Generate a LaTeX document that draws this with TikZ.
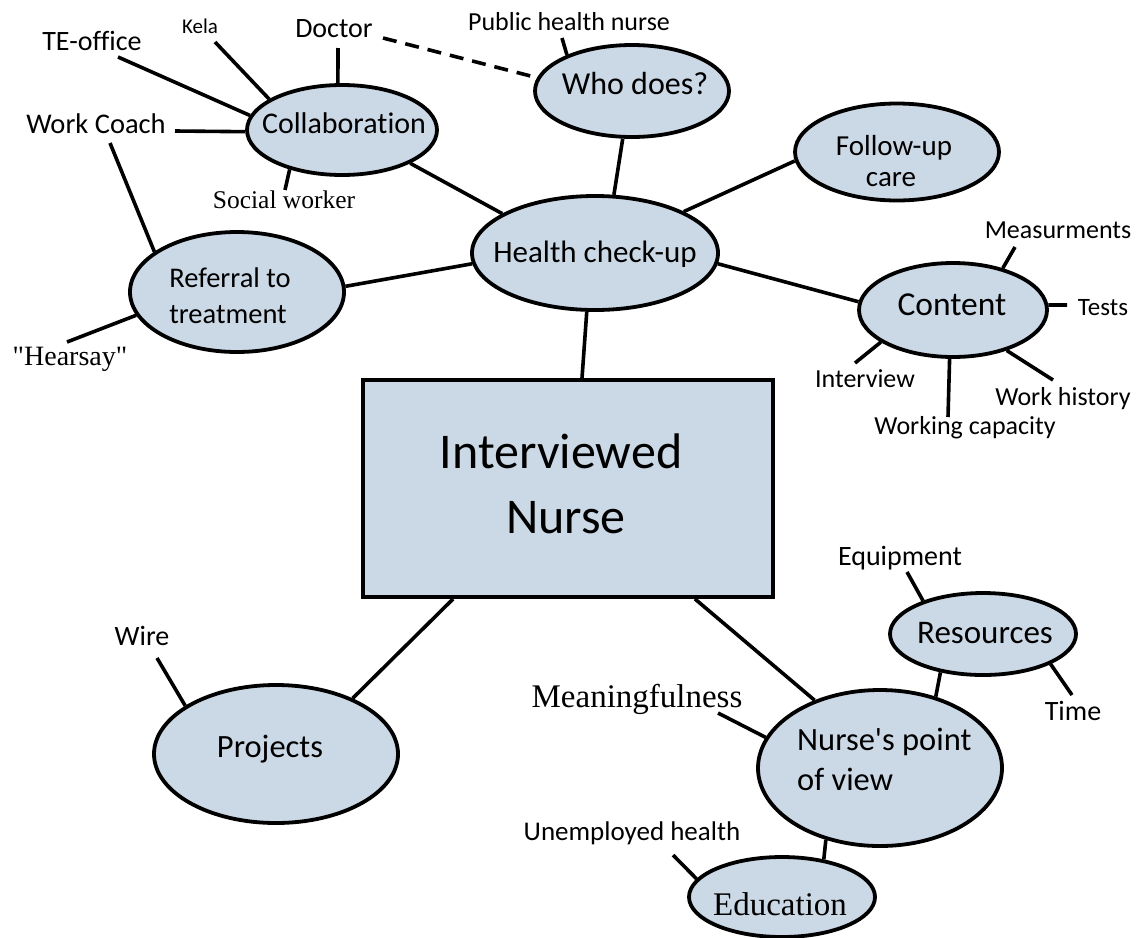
\documentclass[tikz,border=0pt]{standalone}
\usepackage{fontspec}
\setmainfont{Carlito}[Ligatures={TeX,NoCommon}]
\newfontfamily\carnq{Carlito}[Ligatures={TeXOff,NoCommon}]
\newfontfamily\tms{Liberation Serif}
\usetikzlibrary{shapes.geometric}
\definecolor{bubfill}{RGB}{203,216,229}
\pgfdeclarelayer{background}
\pgfsetlayers{background,main}
\tikzset{
  bub/.style={ellipse, draw=black, line width=3.8pt, fill=bubfill, inner sep=0pt},
  lbl/.style={anchor=base, inner sep=0pt, font=\fontsize{#1}{#1}\selectfont},
  slbl/.style={anchor=base, inner sep=0pt, font=\tms\fontsize{#1}{#1}\selectfont},
  conn/.style={line width=3.6pt, line cap=butt},
  dconn/.style={line width=3.6pt, dash pattern=on 14pt off 9pt}
}
\begin{document}
\begin{tikzpicture}[x=1pt,y=-1pt]
\useasboundingbox (0,0) rectangle (1147,937);

% ---------- main box ----------
\node[draw=black, line width=3.8pt, fill=bubfill, inner sep=0pt,
      minimum width=410pt, minimum height=217pt] (box) at (568,488.5) {};
\node[lbl=50] (boxa) at (561,468) {Interviewed};
\node[lbl=50] (boxb) at (566,533) {Nurse};

% ---------- bubbles ----------
\node[bub, minimum width=190pt, minimum height=90pt]  (collab) at (342,130) {};
\node[bub, minimum width=194pt, minimum height=92pt]  (who)    at (632,91) {};
\node[bub, minimum width=246pt, minimum height=114pt] (hc)     at (595,253) {};
\node[bub, minimum width=204pt, minimum height=97pt]  (fup)    at (897,152) {};
\node[bub, minimum width=188pt, minimum height=94pt]  (cont)   at (953,310) {};
\node[bub, minimum width=214pt, minimum height=120pt] (ref)    at (237,292) {};
\node[bub, minimum width=244pt, minimum height=138pt] (proj)   at (276,754) {};
\node[bub, minimum width=186pt, minimum height=82pt]  (res)    at (983,634) {};
\node[bub, minimum width=244pt, minimum height=156pt] (npv)    at (880,768) {};
\node[bub, minimum width=186pt, minimum height=80pt]  (edu)    at (782,897) {};

% ---------- bubble texts ----------
\node[lbl=30] (collabt) at (344,133) {Collaboration};
\node[lbl=32] (whot)    at (635,94) {Who does?};
\node[lbl=31] (hct)     at (595,262) {Health check-up};
\node[lbl=29] (fupa)    at (894,155) {Follow-up};
\node[lbl=29] (fupb)    at (891,186) {care};
\node[lbl=33.5] (contt) at (952,315) {Content};
\node[lbl=28.5] (refa)  at (230,287) {Referral to};
\node[lbl=28.5] (refb)  at (228,323) {treatment};
\node[lbl=32.5] (projt) at (270,757) {Projects};
\node[lbl=33] (rest)    at (985,643) {Resources};
\node[anchor=base west, inner sep=0pt, font=\carnq\fontsize{32.5}{32.5}\selectfont] (npva) at (797,750) {Nurse's point};
\node[lbl=32.5, anchor=base west] (npvb) at (797,790) {of view};
\node[slbl=33] (edut)   at (780,915) {Education};

% ---------- leaf texts ----------
\node[lbl=28] (te)    at (92,50) {TE-office};
\node[lbl=21] (kela)  at (200,33) {Kela};
\node[lbl=28] (doc)   at (334,37) {Doctor};
\node[lbl=28.5] (wc)  at (96,133) {Work Coach};
\node[slbl=25.5] (sw) at (284,208) {Social worker};
\node[slbl=28] (hear) at (70,365) {"Hearsay"};
\node[lbl=26] (phn)   at (569,30) {Public health nurse};
\node[lbl=26] (meas)  at (1058,238) {Measurments};
\node[lbl=25] (tests) at (1103,315) {Tests};
\node[lbl=26] (intv)  at (865,387) {Interview};
\node[lbl=26] (whist) at (1063,405) {Work history};
\node[lbl=26] (wcap)  at (965,434) {Working capacity};
\node[lbl=28] (wire)  at (142,645) {Wire};
\node[slbl=33] (mean) at (637,707) {Meaningfulness};
\node[lbl=27] (unemp) at (632,840) {Unemployed health};
\node[lbl=28] (equip) at (900,565) {Equipment};
\node[lbl=28] (time)  at (1073,720) {Time};

% ---------- free ends of leaf connectors ----------
\coordinate (teE)    at (118,57);
\coordinate (kelaE)  at (215,42);
\coordinate (docE)   at (338,48);
\coordinate (docD)   at (383,38);
\coordinate (wcE)    at (175,131);
\coordinate (wcF)    at (110,143);
\coordinate (swE)    at (285,190);
\coordinate (phnE)   at (562,38);
\coordinate (hearE)  at (67,342);
\coordinate (measE)  at (1015,247);
\coordinate (testsE) at (1067,305);
\coordinate (intvE)  at (855,363);
\coordinate (wcapE)  at (948,417);
\coordinate (whistE) at (1053,380);
\coordinate (wireE)  at (157,658);
\coordinate (meanE)  at (718,713);
\coordinate (equipE) at (907,572);
\coordinate (timeE)  at (1072,695);
\coordinate (unempE) at (673,855);

\begin{pgfonlayer}{background}
% main structure
\draw[conn] (hc.262) -- ([xshift=14pt]box.north);
\draw[conn] (hc.72.2) -- (who.259.6);
\draw[conn] (hc.157.1) -- (collab.334.8);
\draw[conn] (hc.185.6) -- (ref.3.6);
\draw[conn] (hc.25) -- (fup.185.1);
\draw[conn] (hc.355.3) -- (cont.175.1);
\draw[conn] ([xshift=92pt]box.south west) -- (proj.36);
\draw[conn] ([xshift=-80pt]box.south east) -- (npv.134.6);
\draw[conn] (npv.52.2) -- (res.222.2);
\draw[conn] (npv.233.4) -- (edu.42.8);
% collaboration leaves
\draw[conn] (collab.171.8) -- (teE);
\draw[conn] (collab.157.3) -- (kelaE);
\draw[conn] (collab.95) -- (docE);
\draw[conn] (collab.181) -- (wcE);
\draw[conn] (collab.217.9) -- (swE);
\draw[dconn] (docD) -- (who.172.2);
\draw[conn] (who.151.7) -- (phnE);
% referral leaves
\draw[conn] (ref.154.7) -- (wcF);
\draw[conn] (ref.193.8) -- (hearE);
% content leaves
\draw[conn] (cont.40.5) -- (measE);
\draw[conn] (cont.3) -- (testsE);
\draw[conn] (cont.204.3) -- (intvE);
\draw[conn] (cont.266) -- (wcapE);
\draw[conn] (cont.323.9) -- (whistE);
% lower leaves
\draw[conn] (proj.152.4) -- (wireE);
\draw[conn] (npv.165.1) -- (meanE);
\draw[conn] (res.151.1) -- (equipE);
\draw[conn] (res.336.1) -- (timeE);
\draw[conn] (edu.168.7) -- (unempE);
\end{pgfonlayer}
\end{tikzpicture}
\end{document}
